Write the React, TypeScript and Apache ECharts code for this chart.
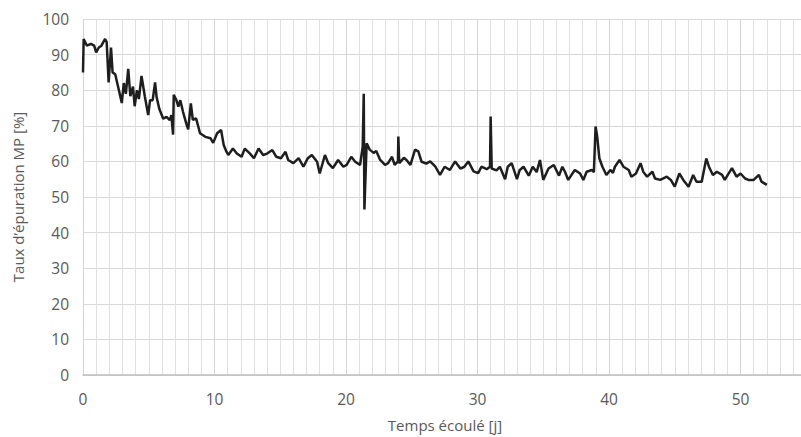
import React, { useEffect, useRef } from "react";
import * as echarts from "echarts";

const times: number[] = [
  0.0, 0.05, 0.3, 0.6, 0.85, 1.0, 1.2, 1.4, 1.68, 1.8, 1.95, 2.13, 2.25, 2.45, 2.7, 2.95,
  3.1, 3.26, 3.44, 3.6, 3.8, 3.93, 4.1, 4.25, 4.45, 4.7, 4.96, 5.1, 5.3, 5.48, 5.6, 5.8,
  6.1, 6.35, 6.6, 6.72, 6.85, 6.9, 7.1, 7.25, 7.4, 7.6, 7.85, 8.0, 8.2, 8.35, 8.6, 8.75,
  8.9, 9.3, 9.7, 9.9, 10.2, 10.5, 10.7, 10.9, 11.05, 11.4, 11.7, 12.06, 12.3, 12.7, 13.0,
  13.35, 13.7, 14.0, 14.4, 14.7, 15.05, 15.4, 15.6, 16.0, 16.4, 16.76, 17.1, 17.4, 17.8,
  18.0, 18.4, 18.65, 19.0, 19.4, 19.8, 20.05, 20.4, 20.7, 21.07, 21.27, 21.35, 21.4, 21.57,
  21.8, 22.1, 22.3, 22.6, 22.97, 23.2, 23.5, 23.7, 23.95, 23.98, 24.05, 24.4, 24.6, 24.9,
  25.25, 25.5, 25.75, 26.1, 26.4, 26.8, 27.15, 27.5, 27.9, 28.3, 28.7, 29.0, 29.3, 29.7,
  30.05, 30.3, 30.7, 30.95, 31.0, 31.08, 31.45, 31.7, 32.1, 32.3, 32.6, 33.0, 33.2, 33.5,
  33.9, 34.2, 34.5, 34.75, 35.0, 35.4, 35.8, 36.2, 36.45, 36.65, 36.9, 37.4, 37.8, 38.05,
  38.3, 38.7, 38.85, 38.98, 39.1, 39.27, 39.5, 39.8, 40.1, 40.3, 40.45, 40.8, 41.1, 41.5,
  41.7, 42.05, 42.4, 42.6, 42.9, 43.3, 43.5, 43.9, 44.4, 44.7, 45.0, 45.35, 45.65, 46.05,
  46.4, 46.65, 47.05, 47.4, 47.6, 47.9, 48.2, 48.6, 48.8, 49.35, 49.7, 50.0, 50.35, 50.6,
  51.0, 51.4, 51.6, 52.0,
];

const rates: number[] = [
  85, 94.4, 92.5, 93, 92.5, 90.6, 92, 92.5, 94.4, 93.5, 82.2, 92, 85, 84.5, 80.5, 76.4,
  82, 79, 86, 78.3, 81, 75.5, 80, 77.5, 84, 78.3, 73, 77.2, 77.2, 82.2, 78, 74.8,
  72, 72.5, 71.6, 73, 67.5, 78.7, 77.2, 75.4, 77.2, 74, 70.7, 69, 76.3, 71.7, 72.1, 70,
  67.9, 66.9, 66.5, 65.2, 67.9, 68.8, 64.6, 62.8, 61.8, 63.6, 62.2, 61.3, 63.6, 62.2, 60.9,
  63.6, 61.8, 62.2, 63.2, 61.3, 60.9, 62.7, 60.4, 59.5, 60.9, 58.5, 60.9, 61.8, 59.9,
  56.6, 61.8, 59.5, 58.1, 60.4, 58.5, 59, 61.3, 59.9, 59, 64.1, 79, 46.5, 65.1,
  63.3, 62.4, 62.9, 60.4, 59, 59.5, 61.3, 59, 60, 67, 59.5, 61, 60.4, 59,
  63.3, 62.8, 59.9, 59.4, 60, 58.5, 56.2, 58.5, 57.6, 60, 58, 58.5, 60, 57.2,
  56.7, 58.5, 57.8, 58.5, 72.6, 58, 57.5, 58.5, 55, 58.5, 59.5, 55, 57.5, 58.5,
  56, 58.5, 57, 60.4, 54.8, 58, 59, 56, 58.5, 57.1, 54.8, 57.6, 56.6, 54.8,
  57.1, 57.6, 57, 69.8, 67, 60.8, 58.5, 56.2, 57.6, 56.8, 58.5, 60.4, 58.5, 57.6,
  55.7, 56.6, 59.5, 57.1, 55.7, 57.1, 55.2, 54.8, 55.7, 54.8, 52.9, 56.6, 54.8, 52.9,
  56.2, 54.3, 54.3, 60.8, 58.5, 56.2, 57.1, 56.2, 54.8, 58.1, 55.7, 56.6, 55.2, 54.8,
  54.8, 56.2, 54.3, 53.4,
];

const yTitle = "Taux d’épuration MP [%]";
const xTitle = "Temps écoulé [j]";

export default function App() {
  const ref = useRef<HTMLDivElement>(null);
  useEffect(() => {
    if (!ref.current) return;
    const chart = echarts.init(ref.current, undefined, { renderer: "svg" });
    const data = times.map((t, i) => [t, rates[i]]);
    const font = "'Open Sans', 'Liberation Sans', sans-serif";
    chart.setOption({
      animation: false,
      backgroundColor: "#ffffff",
      grid: {
        left: 83,
        top: 19,
        width: 789,
        height: 356,
        containLabel: false,
        outerBoundsMode: "none",
      },
      xAxis: {
        type: "value",
        min: 0,
        max: 60,
        interval: 10,
        axisLine: { show: true, lineStyle: { color: "#bfbfbf", width: 1.5 } },
        axisTick: { show: false },
        axisLabel: {
          color: "#595959",
          fontSize: 15.5,
          fontFamily: font,
          margin: 16,
          showMaxLabel: false,
        },
        splitLine: { show: true, lineStyle: { color: "#d4d4d4", width: 1 } },
        minorTick: { show: false, splitNumber: 10 },
        minorSplitLine: { show: true, lineStyle: { color: "#e0e0e0", width: 1 } },
      },
      yAxis: {
        type: "value",
        min: 0,
        max: 100,
        interval: 10,
        name: yTitle,
        nameLocation: "middle",
        nameGap: 58,
        nameTextStyle: { color: "#595959", fontSize: 15, fontFamily: font },
        axisLine: { show: false },
        axisTick: { show: false },
        axisLabel: { color: "#595959", fontSize: 15.5, fontFamily: font, margin: 14 },
        splitLine: { show: true, lineStyle: { color: "#d9d9d9", width: 1 } },
      },
      graphic: [
        {
          type: "text",
          x: 445,
          y: 425,
          style: {
            text: xTitle,
            fill: "#595959",
            font: `15px ${font}`,
            align: "center",
            verticalAlign: "middle",
          },
        },
      ],
      series: [
        {
          type: "line",
          data,
          showSymbol: false,
          symbol: "none",
          lineStyle: { color: "#1e1e1e", width: 2.5 },
          clip: true,
        },
      ],
    });
    return () => chart.dispose();
  }, []);
  return (
    <div
      ref={ref}
      style={{ position: "absolute", left: 0, top: 0, width: 801, height: 437 }}
    />
  );
}
